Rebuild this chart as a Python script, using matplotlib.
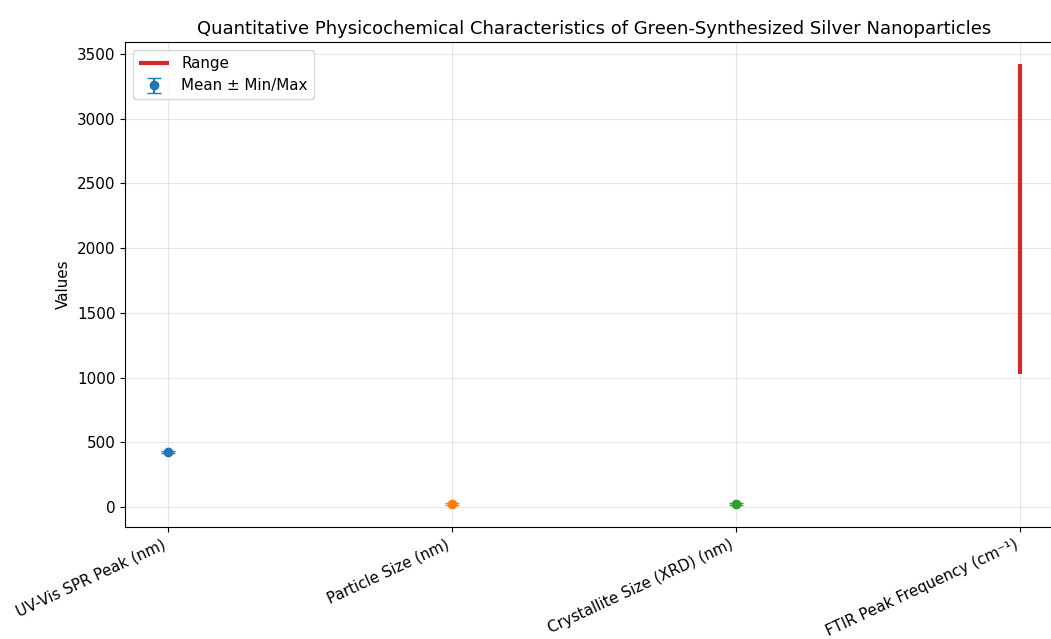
import numpy as np
import matplotlib
matplotlib.use("Agg")
import matplotlib.pyplot as plt

# Characteristics and values
labels = ["UV-Vis SPR Peak (nm)", "Particle Size (nm)",
          "Crystallite Size (XRD) (nm)", "FTIR Peak Frequency (cm⁻¹)"]
means = [425, 25, 25]
mins = [415, 15, 18]
maxs = [435, 35, 32]
ftir_range = [1030, 3420]
colors = ["tab:blue", "tab:orange", "tab:green"]

plt.rcParams["font.size"] = 10.9

fig = plt.figure(figsize=(10.51, 6.39), dpi=100)
ax = fig.add_axes([0.119, 0.175, 0.892, 0.759])

x = np.arange(len(labels))
for i in range(len(means)):
    err = [[means[i] - mins[i]], [maxs[i] - means[i]]]
    ax.errorbar(x[i], means[i], yerr=err, fmt="o", color=colors[i], capsize=5,
                markersize=6, label="Mean ± Min/Max" if i == 0 else None)

ax.vlines(x[3], ftir_range[0], ftir_range[1], color="tab:red", linewidth=3, label="Range")

ax.set_xticks(x)
ax.set_xticklabels(labels, rotation=25, ha="right")
ax.set_ylabel("Values")
ax.set_title("Quantitative Physicochemical Characteristics of Green-Synthesized Silver Nanoparticles",
             fontsize=13)
ax.grid(True, alpha=0.3)

handles, leg_labels = ax.get_legend_handles_labels()
order = [leg_labels.index("Range"), leg_labels.index("Mean ± Min/Max")]
ax.legend([handles[k] for k in order], [leg_labels[k] for k in order], loc="upper left")

fig.savefig("out.png", dpi=100)
